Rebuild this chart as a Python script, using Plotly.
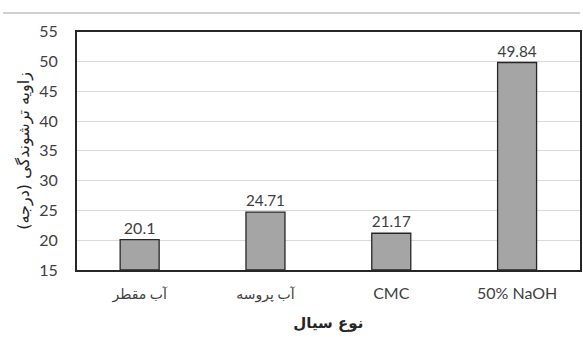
import plotly.graph_objects as go

categories = ["آب مقطر", "آب پروسه", "CMC", "50% NaOH"]
values = [20.1, 24.71, 21.17, 49.84]
y_ticks = [15, 20, 25, 30, 35, 40, 45, 50, 55]
axis_floor = 15

W, H = 583, 345
M_L, M_R, M_T, M_B = 3, 1, 8, 75
plot_left, plot_top, rule_y = 77, 29, 10

paper_w = W - M_L - M_R
paper_h = H - M_T - M_B
x_dom0 = (plot_left - M_L) / paper_w
y_dom1 = 1 - (plot_top - M_T) / paper_h
rule_paper_y = 1 - (rule_y - M_T) / paper_h

# Persian labels are set a little smaller than the Latin ones
tick_text = [
    f'<span style="font-size:14px">{c}</span>' if not c.isascii() else c
    for c in categories
]

fig = go.Figure()
fig.add_trace(go.Bar(
    x=categories,
    y=[v - axis_floor for v in values],
    base=axis_floor,
    marker=dict(color="#a5a5a5", line=dict(color="#262626", width=1.3)),
    text=[str(v) for v in values],
    textposition="outside",
    textfont=dict(family="Lato, Noto Sans", size=16, color="#404040"),
    cliponaxis=False,
    width=0.31,
))
# empty trace that carries the full-width rule axis
fig.add_trace(go.Scatter(x=[None], y=[None], xaxis="x2", yaxis="y2",
                         hoverinfo="skip", showlegend=False))

fig.update_layout(
    width=W, height=H,
    margin=dict(l=M_L, r=M_R, t=M_T, b=M_B),
    paper_bgcolor="white", plot_bgcolor="white",
    showlegend=False,
    xaxis=dict(
        domain=[x_dom0, 1],
        showline=True, linecolor="#262626", linewidth=1.5, mirror=True,
        tickvals=categories, ticktext=tick_text,
        tickfont=dict(family="Lato, DejaVu Sans", size=16, color="#404040"),
        ticks="", ticklabelstandoff=8,
        title=dict(text="نوع سیال", font=dict(family="DejaVu Sans", size=15, color="#262626", weight="bold"), standoff=16),
    ),
    yaxis=dict(
        domain=[0, y_dom1],
        range=[15, 55], tickvals=y_ticks,
        showgrid=True, gridcolor="#d9d9d9", gridwidth=1,
        showline=True, linecolor="#262626", linewidth=1.5, mirror=True,
        zeroline=False,
        tickfont=dict(family="Lato, Noto Sans", size=16, color="#404040"),
        ticks="", ticklabelstandoff=14,
        title=dict(text="زاویه ترشوندگی (درجه)", font=dict(family="DejaVu Sans", size=16, color="#262626"), standoff=6),
    ),
    xaxis2=dict(
        domain=[0, 1], anchor="free", position=rule_paper_y,
        showline=True, linecolor="#d0d0d0", linewidth=1.5,
        showgrid=False, zeroline=False, showticklabels=False, ticks="",
        range=[0, 1], fixedrange=True,
    ),
    yaxis2=dict(
        domain=[rule_paper_y - 0.001, rule_paper_y], anchor="x2",
        visible=False, range=[0, 1], fixedrange=True,
    ),
)
# thin separator rule above the chart
fig.add_shape(type="line", xref="paper", yref="paper",
              x0=0, x1=1, y0=rule_paper_y, y1=rule_paper_y,
              line=dict(color="#d0d0d0", width=1.5))

fig.write_html("out.html")
